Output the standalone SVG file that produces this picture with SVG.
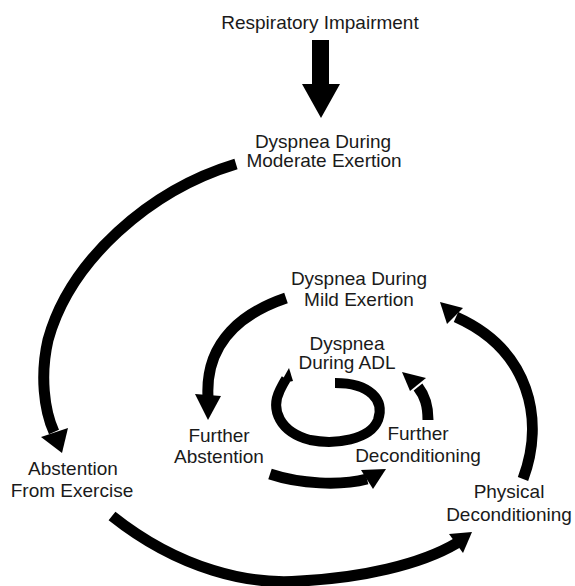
<svg xmlns="http://www.w3.org/2000/svg" width="575" height="586" viewBox="0 0 575 586">
<style>
text{font-family:"Liberation Sans",Arial,sans-serif;font-size:19px;fill:#1a1a1a;text-anchor:middle}
.arc{fill:none;stroke:#000;stroke-width:11}
.head{fill:#000}
</style>
<rect width="575" height="586" fill="#fff"/>
<g id="connectors">
  <polygon class="head" points="312,40 329,40 329,84 340,84 321,118 302,84 312,84"/>
  <path class="arc" d="M 236 164 C 150 190, 70 260, 48 340 C 40 375, 44 410, 54 432"/>
  <polygon class="head" points="41,437 68,428 62,453"/>
  <path class="arc" d="M 112 516 C 180 570, 250 585, 300 581 C 360 578, 420 565, 457 543"/>
  <polygon class="head" points="449,534 463,553 472,532"/>
  <path class="arc" d="M 523 479 C 545 420, 530 350, 456 317"/>
  <polygon class="head" points="447,324 463,308 440,302"/>
  <path class="arc" d="M 286 298 C 245 312, 205 340, 208 397"/>
  <polygon class="head" points="195,394 221,396 208,420"/>
  <path class="arc" d="M 270 474 C 300 484, 340 486, 367 479"/>
  <polygon class="head" points="361,470 373,489 386,469"/>
  <path class="arc" d="M 428 420 C 428 405, 425 396, 418 387"/>
  <polygon class="head" points="410,391 426,378 402,372"/>
  <path class="arc" style="stroke-width:10" d="M 335 383 C 370 383, 385 400, 378 420 C 370 440, 335 445, 310 440 C 280 432, 270 410, 280 390 C 282 386, 284 382, 286 379"/>
  <polygon class="head" points="280,384 293,381 289,368"/>
</g>
<g id="n-respiratory"><text x="320" y="29">Respiratory Impairment</text></g>
<g id="n-moderate"><text x="323" y="148">Dyspnea During</text><text x="324" y="167">Moderate Exertion</text></g>
<g id="n-mild"><text x="359" y="285">Dyspnea During</text><text x="359" y="306">Mild Exertion</text></g>
<g id="n-adl"><text x="347" y="350">Dyspnea</text><text x="347" y="369">During ADL</text></g>
<g id="n-further-abstention"><text x="219" y="442">Further</text><text x="219" y="463">Abstention</text></g>
<g id="n-further-deconditioning"><text x="418" y="440">Further</text><text x="418" y="462">Deconditioning</text></g>
<g id="n-abstention"><text x="73" y="475">Abstention</text><text x="72" y="497">From Exercise</text></g>
<g id="n-physical"><text x="509" y="498">Physical</text><text x="509" y="521">Deconditioning</text></g>
</svg>
